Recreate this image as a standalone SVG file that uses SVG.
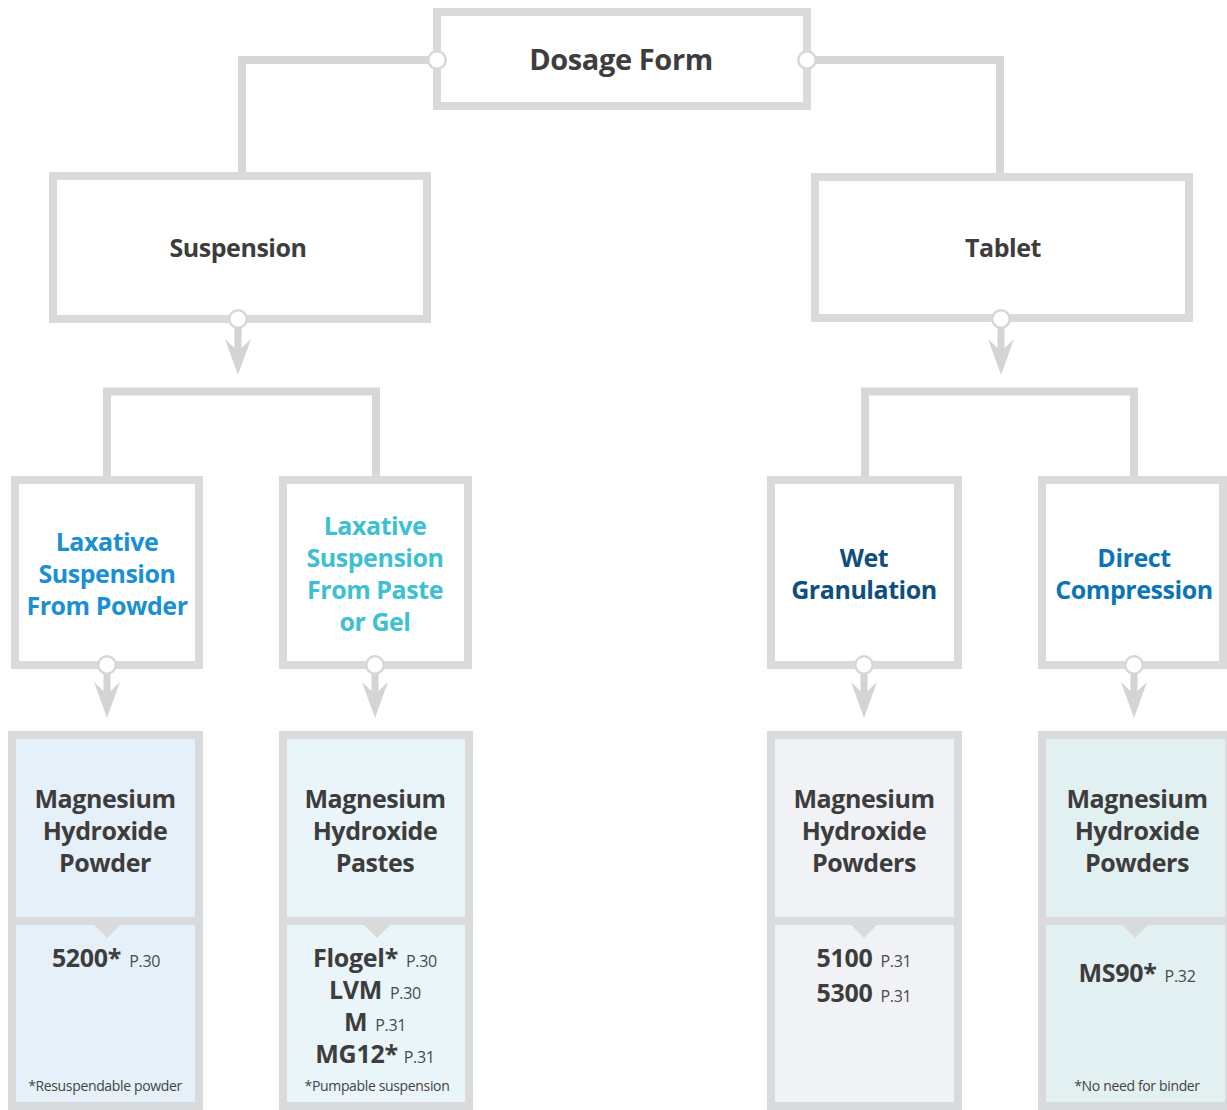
<svg xmlns="http://www.w3.org/2000/svg" width="1227" height="1110" viewBox="0 0 1227 1110">
<style>
.box{fill:#fff;stroke:#d9dadc;stroke-width:8}
.con{fill:none;stroke:#d6d7d9;stroke-width:8}
.dot{fill:#fff;stroke:#d6d7d9;stroke-width:2.5}
.arr{fill:#d3d4d6}
.div{stroke:#d9dadc;stroke-width:8}
.notch{fill:#d9dadc}
text{font-family:"Open Sans","Noto Sans","Liberation Sans",sans-serif;text-anchor:middle}
.t1{font-size:29px;font-weight:700;fill:#3d3d3d;letter-spacing:-0.4px}
.t2{font-size:25px;font-weight:700;fill:#3d3d3d;letter-spacing:-0.45px}
.c1{fill:#1a90d2}
.c2{fill:#3cc0d2}
.c3{fill:#0e4f80}
.c4{fill:#0b74b6}
.code{font-size:25px;font-weight:700;fill:#3d3d3d;letter-spacing:-0.3px}
.pg{font-size:16px;font-weight:400;fill:#4a4a4a;letter-spacing:-0.3px}
.fn{font-size:14px;font-weight:400;fill:#444;letter-spacing:-0.35px}
</style>
<defs>
<g id="arrow">
<rect x="-3.5" y="0" width="7" height="32"/>
<polygon points="-13,20 -3.5,29 3.5,29 13,20 0,56"/>
</g>
</defs>

<g id="connectors">
<path class="con" d="M437,60 H242 V176"/>
<path class="con" d="M807,60 H1000 V177"/>
<path class="con" d="M107,480 V391.5 H376 V480"/>
<path class="con" d="M865,480 V391.5 H1134 V480"/>
<use href="#arrow" class="arr" x="238" y="319"/>
<use href="#arrow" class="arr" x="1001" y="319"/>
<use href="#arrow" class="arr" x="107" y="662"/>
<use href="#arrow" class="arr" x="375" y="662"/>
<use href="#arrow" class="arr" x="864" y="662"/>
<use href="#arrow" class="arr" x="1134" y="662"/>
</g>

<g id="dosage-form">
<rect class="box" x="437" y="12" width="370" height="94"/>
<text class="t1" x="621" y="70">Dosage Form</text>
<circle class="dot" cx="437" cy="60" r="8.75"/>
<circle class="dot" cx="807" cy="60" r="8.75"/>
</g>

<g id="suspension">
<rect class="box" x="53" y="176" width="374" height="143"/>
<text class="t2" x="238" y="257">Suspension</text>
<circle class="dot" cx="238" cy="319" r="8.75"/>
</g>

<g id="tablet">
<rect class="box" x="815" y="177" width="374" height="141"/>
<text class="t2" x="1003" y="257">Tablet</text>
<circle class="dot" cx="1001" cy="319" r="8.75"/>
</g>

<g id="laxative-powder">
<rect class="box" x="15" y="480" width="184" height="185"/>
<text class="t2 c1" x="107" y="551">Laxative</text>
<text class="t2 c1" x="107" y="583">Suspension</text>
<text class="t2 c1" x="107" y="615">From Powder</text>
<circle class="dot" cx="107" cy="665" r="8.75"/>
</g>

<g id="laxative-paste">
<rect class="box" x="283" y="480" width="185" height="185"/>
<text class="t2 c2" x="375" y="535">Laxative</text>
<text class="t2 c2" x="375" y="567">Suspension</text>
<text class="t2 c2" x="375" y="599">From Paste</text>
<text class="t2 c2" x="375" y="631">or Gel</text>
<circle class="dot" cx="375" cy="665" r="8.75"/>
</g>

<g id="wet-granulation">
<rect class="box" x="771" y="480" width="187" height="185"/>
<text class="t2 c3" x="864" y="567">Wet</text>
<text class="t2 c3" x="864" y="599">Granulation</text>
<circle class="dot" cx="864" cy="665" r="8.75"/>
</g>

<g id="direct-compression">
<rect class="box" x="1042" y="480" width="181" height="185"/>
<text class="t2 c4" x="1134" y="567">Direct</text>
<text class="t2 c4" x="1134" y="599">Compression</text>
<circle class="dot" cx="1134" cy="665" r="8.75"/>
</g>

<g id="mg-powder">
<rect class="box" x="12" y="735" width="187" height="371" style="fill:#e5f0f9"/>
<line class="div" x1="12" y1="921" x2="199" y2="921"/>
<polygon class="notch" points="93,924 121,924 107,938"/>
<text class="t2" x="105" y="808">Magnesium</text>
<text class="t2" x="105" y="840">Hydroxide</text>
<text class="t2" x="105" y="872">Powder</text>
<text class="code" x="106" y="967">5200*<tspan class="pg" dx="8">P.30</tspan></text>
<text class="fn" x="105" y="1091">*Resuspendable powder</text>
</g>

<g id="mg-pastes">
<rect class="box" x="283" y="735" width="186" height="371" style="fill:#e9f5f8"/>
<line class="div" x1="283" y1="921" x2="469" y2="921"/>
<polygon class="notch" points="363,924 391,924 377,938"/>
<text class="t2" x="375" y="808">Magnesium</text>
<text class="t2" x="375" y="840">Hydroxide</text>
<text class="t2" x="375" y="872">Pastes</text>
<text class="code" x="375" y="967">Flogel*<tspan class="pg" dx="8">P.30</tspan></text>
<text class="code" x="375" y="999">LVM<tspan class="pg" dx="8">P.30</tspan></text>
<text class="code" x="375" y="1031">M<tspan class="pg" dx="8">P.31</tspan></text>
<text class="code" x="375" y="1063">MG12*<tspan class="pg" dx="6">P.31</tspan></text>
<text class="fn" x="377" y="1091">*Pumpable suspension</text>
</g>

<g id="mg-powders-wet">
<rect class="box" x="771" y="735" width="187" height="371" style="fill:#f0f2f6"/>
<line class="div" x1="771" y1="921" x2="958" y2="921"/>
<polygon class="notch" points="850,924 878,924 864,938"/>
<text class="t2" x="864" y="808">Magnesium</text>
<text class="t2" x="864" y="840">Hydroxide</text>
<text class="t2" x="864" y="872">Powders</text>
<text class="code" x="864" y="967">5100<tspan class="pg" dx="8">P.31</tspan></text>
<text class="code" x="864" y="1002">5300<tspan class="pg" dx="8">P.31</tspan></text>
</g>

<g id="mg-powders-direct">
<rect class="box" x="1042" y="735" width="187" height="371" style="fill:#e2f0f1"/>
<line class="div" x1="1042" y1="921" x2="1229" y2="921"/>
<polygon class="notch" points="1121,924 1149,924 1135,938"/>
<text class="t2" x="1137" y="808">Magnesium</text>
<text class="t2" x="1137" y="840">Hydroxide</text>
<text class="t2" x="1137" y="872">Powders</text>
<text class="code" x="1137" y="982">MS90*<tspan class="pg" dx="8">P.32</tspan></text>
<text class="fn" x="1137" y="1091">*No need for binder</text>
</g>
</svg>
